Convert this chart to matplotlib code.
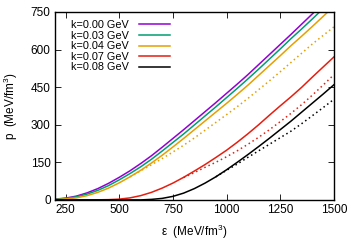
import numpy as np
import matplotlib
matplotlib.use('Agg')
import matplotlib.pyplot as plt

plt.rcParams['font.family'] = ['Liberation Sans', 'DejaVu Sans']
plt.rcParams['mathtext.fontset'] = 'custom'
plt.rcParams['mathtext.rm'] = 'Liberation Sans'

# energy density grid (MeV/fm^3)
eps = [200, 250, 300, 350, 400, 450, 500, 550, 600, 650, 700, 750, 800, 850,
       900, 950, 1000, 1050, 1100, 1150, 1200, 1250, 1300, 1350, 1400, 1450, 1500]

# pressure (MeV/fm^3), solid curves
p_k000 = [3, 7, 15, 28, 45, 66, 90, 116, 145, 176, 210, 245, 280, 316,
          352, 388, 425, 462, 500, 540, 580, 620, 660, 701, 742, 783, 825]
p_k003 = [2, 6, 12, 23, 38, 57, 80, 105, 132, 162, 195, 229, 263, 299,
          335, 371, 408, 445, 483, 522, 562, 602, 643, 682, 722, 763, 805]
p_k004 = [1, 4, 8, 17, 30, 47, 68, 92, 118, 147, 178, 211, 245, 280,
          315, 350, 385, 421, 458, 497, 536, 575, 615, 653, 692, 732, 772]
p_k007 = [0, 0, 0, 0, 0.3, 1, 3, 8, 17, 30, 47, 67, 90, 115,
          141, 169, 198, 230, 264, 300, 338, 375, 411, 449, 490, 530, 570]
p_k008 = [0, 0, 0, 0, 0, 0, 0, 0, 0, 2, 6, 14, 27, 45,
          67, 92, 120, 150, 181, 213, 246, 280, 314, 350, 386, 422, 459]

# dotted curves (only where they split off)
eps_d004 = [550, 600, 650, 700, 750, 800, 850, 900, 950, 1000, 1050, 1100,
            1150, 1200, 1250, 1300, 1350, 1400, 1450, 1500]
p_d004 = [92, 116, 140, 165, 191, 218, 247, 278, 309, 340, 372, 405,
          440, 475, 511, 548, 585, 622, 656, 690]
eps_d007 = [800, 850, 900, 950, 1000, 1050, 1100, 1150, 1200, 1250, 1300,
            1350, 1400, 1450, 1500]
p_d007 = [89, 109, 130, 150, 172, 196, 222, 250, 280, 312, 345, 380, 418, 458, 499]
eps_d008 = [950, 1000, 1050, 1100, 1150, 1200, 1250, 1300, 1350, 1400, 1450, 1500]
p_d008 = [92, 118, 143, 170, 196, 222, 248, 274, 304, 336, 368, 401]

labels = ['k=0.00 GeV', 'k=0.03 GeV', 'k=0.04 GeV', 'k=0.07 GeV', 'k=0.08 GeV']
colors = ['#9400d3', '#009e73', '#e69f00', '#e51e10', 'black']

fig = plt.figure(figsize=(3.54, 2.48), dpi=100)
ax = fig.add_axes([0.155, 0.194, 0.788, 0.758])

for p, lab, c in zip([p_k000, p_k003, p_k004, p_k007, p_k008], labels, colors):
    ax.plot(eps, p, color=c, lw=1.1, label=lab)

dot = (0, (1, 2))
ax.plot(eps_d004, p_d004, color=colors[2], lw=1.1, ls=dot)
ax.plot(eps_d007, p_d007, color=colors[3], lw=1.1, ls=dot)
ax.plot(eps_d008, p_d008, color=colors[4], lw=1.1, ls=dot)

ax.set_xlim(200, 1500)
ax.set_ylim(0, 750)
ax.set_xticks([250, 500, 750, 1000, 1250, 1500])
ax.set_yticks([0, 150, 300, 450, 600, 750])
ax.tick_params(direction='in', top=True, right=True, length=4, width=0.6,
               labelsize=8.5, pad=3)
for s in ax.spines.values():
    s.set_linewidth(1.0)

ax.set_xlabel(r'ε  (MeV/fm$^3$)', fontsize=8.5, labelpad=5)
ax.set_ylabel(r'p  (MeV/fm$^3$)', fontsize=8.5, labelpad=8)

ax.legend(loc='upper left', bbox_to_anchor=(0.035, 0.99), frameon=False,
          markerfirst=False, fontsize=7.8, handlelength=2.9, handletextpad=0.9,
          labelspacing=0.05, borderaxespad=0.2)

plt.savefig('out.png', dpi=100)
